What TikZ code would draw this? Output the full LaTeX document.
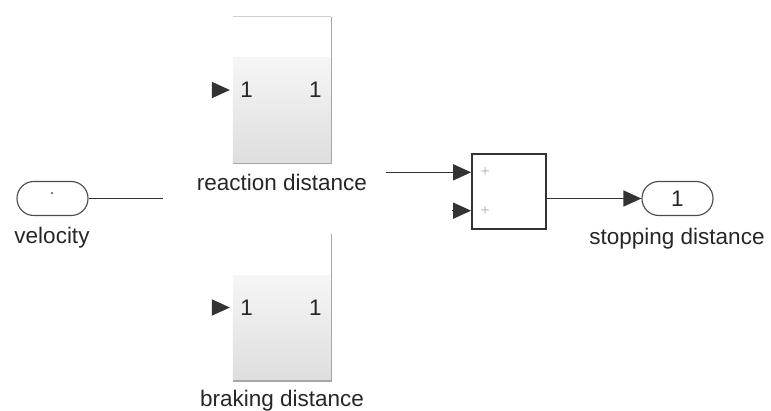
\documentclass[tikz,border=0pt]{standalone}
\usepackage{fontspec}
\setmainfont{Liberation Sans}
\usetikzlibrary{arrows.meta,positioning,calc}
\tikzset{
  signal/.style={-{Triangle[length=0.45cm,width=0.4cm]}, line width=1pt, draw=black!80},
  wire/.style={line width=1pt, draw=black!80},
  subsys/.style={rectangle, minimum width=2.45cm, minimum height=3.65cm, inner sep=0pt, fill=white,
    path picture={
      \shade[top color=white, bottom color=black!13]
        ($(path picture bounding box.north west)!0.28!(path picture bounding box.south west)$)
        rectangle (path picture bounding box.south east);
    }
  },
  rimlight/.style={line width=1pt, draw=black!18},
  rimdark/.style={line width=1.1pt, draw=black!35},
  sumblk/.style={draw=black!80, line width=1.2pt, rectangle, minimum width=1.85cm, minimum height=1.875cm, inner sep=0pt, fill=white},
  port/.style={draw=black!70, line width=0.8pt, rectangle, rounded corners=0.42cm, minimum width=1.775cm, minimum height=0.85cm, inner sep=0pt},
  caption/.style={font=\fontsize{16}{19}\selectfont, text=black!85, inner sep=0pt},
  sign/.style={font=\fontsize{11}{12}\selectfont, text=black!25, inner sep=0pt},
  speck/.style={circle, fill=black!70, minimum size=1.6pt, inner sep=0pt}
}
\begin{document}
\begin{tikzpicture}[x=0.025cm, y=-0.025cm]
  \useasboundingbox (0,0) rectangle (771,410);

  % blocks
  \node[port] (velocity) at (52.5,198.5) {};
  \node[speck] (velmark) at (52,193) {};
  \node[subsys] (react) at (282,90) {};
  \node[subsys] (brake) at (282,307.5) {};
  \node[sumblk] (sum) at (509,191.5) {};
  \node[port, caption] (stop) at (677.5,198.5) {1};

  \draw[rimlight] (react.north west) -- (react.north east);
  \foreach \b in {react,brake} {
    \draw[rimdark] (\b.north east) -- (\b.south east) -- (\b.south west);
    \node[caption] (\b-in) at ([xshift=0.35cm]\b.west) {1};
    \node[caption] (\b-out) at ([xshift=-0.4cm]\b.east) {1};
    \draw[signal] ([xshift=-0.5cm]\b.west) -- ([xshift=-0.07cm]\b.west);
  }

  % labels
  \node[caption, anchor=base] (velocitylbl) at (52,243) {velocity};
  \node[caption, anchor=base] (reactlbl) at (282,190) {reaction distance};
  \node[caption, anchor=base] (brakelbl) at (282,406) {braking distance};
  \node[caption, anchor=base] (stoplbl) at (677,244) {stopping distance};

  % sum inputs
  \coordinate (sumin1) at ($(sum.north west)!0.25!(sum.south west)$);
  \coordinate (sumin2) at ($(sum.north west)!0.75!(sum.south west)$);
  \node[sign] (sumsgn1) at ([xshift=0.35cm]sumin1) {+};
  \node[sign] (sumsgn2) at ([xshift=0.35cm]sumin2) {+};

  % lines
  \coordinate (vcut) at (163,198.5);
  \coordinate (rcut) at ([xshift=-2.125cm]sumin1);
  \draw[wire] (velocity) -- (vcut);
  \draw[signal] (rcut) -- (sumin1);
  \draw[signal] ([xshift=-0.47cm]sumin2) -- (sumin2);
  \draw[signal] (sum.east |- stop.west) -- (stop.west);
\end{tikzpicture}
\end{document}
